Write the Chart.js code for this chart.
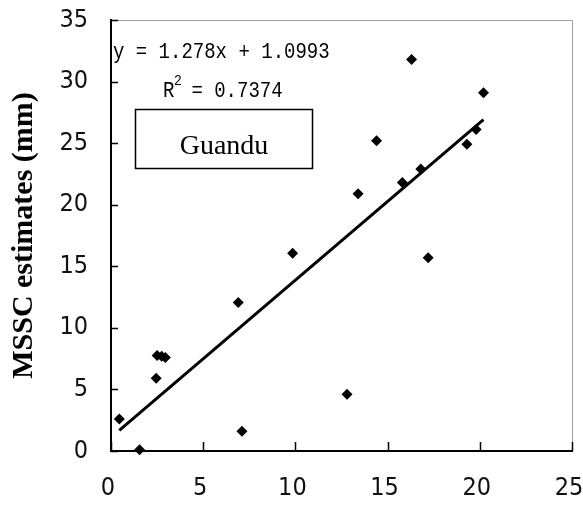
<!DOCTYPE html>
<html><head><meta charset="utf-8">
<script src="https://cdn.jsdelivr.net/npm/chart.js@4.4.0/dist/chart.umd.min.js"></script>
<style>html,body{margin:0;padding:0;background:#fff;}#wrap{width:583px;height:509px;}</style>
</head><body><div id="wrap"><canvas id="c" width="583" height="509"></canvas></div>
<script>
// ---- data ----
const observedX  = [0.45, 1.55, 2.45, 2.5, 2.75, 2.95, 6.9, 7.1, 9.85, 12.8, 13.4, 14.4, 15.8, 16.3, 16.8, 17.2, 19.3, 19.8, 20.2];
const estimatedY = [2.6, 0.1, 5.9, 7.75, 7.7, 7.6, 12.05, 1.6, 16.05, 4.6, 20.9, 25.2, 21.8, 31.8, 22.9, 15.7, 24.9, 26.1, 29.1];
const xTicks = [0, 5, 10, 15, 20, 25];
const yTicks = [0, 5, 10, 15, 20, 25, 30, 35];
const trendSlope = 1.278;
const trendIntercept = 1.0993;
const equationLabel = 'y = 1.278x + 1.0993';
const r2Label = '0.7374';
const stationName = 'Guandu';
const yAxisTitle = 'MSSC estimates (mm)';

const points = observedX.map((x, i) => ({x: x, y: estimatedY[i]}));
const minX = Math.min(...observedX), maxX = Math.max(...observedX);
const trend = [minX, maxX].map(x => ({x: x, y: trendSlope * x + trendIntercept}));

const tickFont = {family: '"Liberation Sans Narrow", "DejaVu Sans Condensed", "Liberation Sans", sans-serif', size: 25, weight: 'normal'};

const decor = {
  id: 'decor',
  afterDraw(chart) {
    const ctx = chart.ctx, a = chart.chartArea;
    const xs = chart.scales.x, ys = chart.scales.y;
    ctx.save();
    // top/right frame
    ctx.strokeStyle = '#a0a0a0'; ctx.lineWidth = 1;
    ctx.beginPath();
    ctx.moveTo(a.left, a.top + 0.5); ctx.lineTo(a.right + 0.5, a.top + 0.5); ctx.lineTo(a.right + 0.5, a.bottom);
    ctx.stroke();
    // inward ticks
    ctx.strokeStyle = '#000'; ctx.lineWidth = 1.5;
    ctx.beginPath();
    xTicks.forEach(v => { const p = Math.round(xs.getPixelForValue(v)) + 0.5; ctx.moveTo(p, a.bottom); ctx.lineTo(p, a.bottom - 9); });
    yTicks.forEach(v => { const p = Math.round(ys.getPixelForValue(v)) + 0.5; ctx.moveTo(a.left, p); ctx.lineTo(a.left + 7, p); });
    ctx.stroke();
    // equation text
    ctx.fillStyle = '#000';
    ctx.textBaseline = 'alphabetic';
    ctx.textAlign = 'left';
    const mono = '19px "Liberation Mono", "DejaVu Sans Mono", monospace';
    ctx.save(); ctx.translate(a.left + 2, 58); ctx.scale(1, 1.18); ctx.font = mono; ctx.fillText(equationLabel, 0, 0); ctx.restore();
    ctx.save(); ctx.translate(a.left + 52, 97); ctx.scale(1, 1.18); ctx.font = mono; ctx.fillText('R', 0, 0);
    ctx.font = '13px "Liberation Mono", "DejaVu Sans Mono", monospace'; ctx.fillText('2', 11, -10);
    ctx.font = mono; ctx.fillText(' = ' + r2Label, 17, 0); ctx.restore();
    // station box
    ctx.lineWidth = 1.5; ctx.strokeStyle = '#000';
    ctx.strokeRect(a.left + 24.5, 109.5, 177, 59);
    ctx.font = '28px "Liberation Serif", "Times New Roman", serif';
    ctx.textAlign = 'center';
    ctx.fillText(stationName, a.left + 113, 154);
    ctx.restore();
  }
};

new Chart(document.getElementById('c'), {
  type: 'scatter',
  data: {
    datasets: [
      {data: points, pointStyle: 'rectRot', pointRadius: 5.5, pointHoverRadius: 5.5, backgroundColor: '#000', borderColor: '#000', borderWidth: 0, clip: false, order: 0},
      {data: trend, showLine: true, pointRadius: 0, borderColor: '#000', borderWidth: 3, fill: false, order: 1}
    ]
  },
  options: {
    responsive: false, animation: false, devicePixelRatio: 1,
    layout: {padding: {left: 0, right: 11, top: 20, bottom: 0}},
    plugins: {legend: {display: false}, tooltip: {enabled: false}},
    scales: {
      x: {
        type: 'linear', min: 0, max: 25,
        afterBuildTicks: s => { s.ticks = xTicks.map(v => ({value: v})); },
        afterFit: s => { s.height = 58; s.paddingLeft = 0; s.paddingRight = 0; },
        grid: {display: false, drawTicks: false, tickLength: 0},
        border: {display: true, color: '#000', width: 2},
        ticks: {font: tickFont, color: '#111', padding: 22, maxRotation: 0, labelOffset: -3}
      },
      y: {
        type: 'linear', min: 0, max: 35,
        afterBuildTicks: s => { s.ticks = yTicks.map(v => ({value: v})); },
        afterFit: s => { s.width = 111; s.paddingTop = 0; s.paddingBottom = 0; },
        grid: {display: false, drawTicks: false, tickLength: 0},
        border: {display: true, color: '#000', width: 2},
        ticks: {font: tickFont, color: '#111', padding: 23},
        title: {display: true, text: yAxisTitle, color: '#000', padding: {top: 6, bottom: 0},
                font: {family: '"Liberation Serif", "Times New Roman", serif', size: 30, weight: 'bold'}}
      }
    }
  },
  plugins: [decor]
});
</script></body></html>
